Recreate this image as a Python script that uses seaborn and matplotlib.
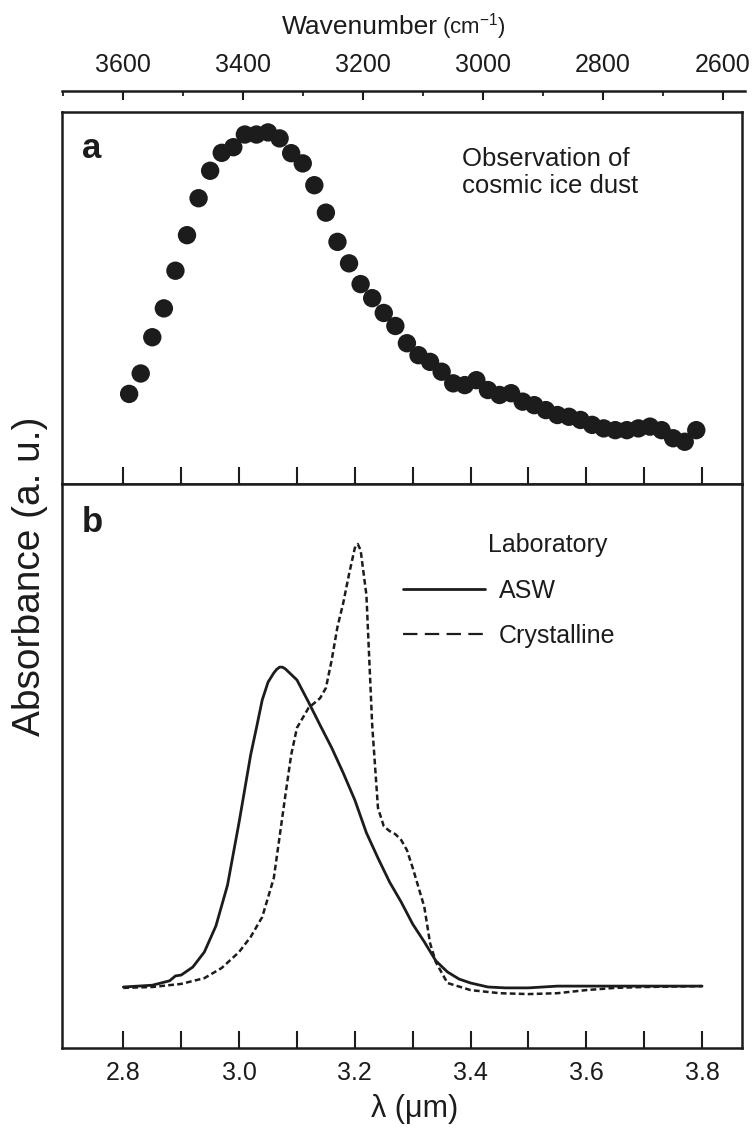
import numpy as np
import pandas as pd
import matplotlib
matplotlib.use('Agg')
import matplotlib.pyplot as plt
from matplotlib.ticker import MultipleLocator, FixedLocator, FormatStrFormatter
from matplotlib.lines import Line2D
import seaborn as sns

sns.set_theme(style='white')
plt.rcParams['font.family'] = ['Liberation Sans', 'DejaVu Sans']
plt.rcParams['mathtext.fontset'] = 'custom'
plt.rcParams['mathtext.rm'] = 'Liberation Sans'

INK = '#1c1c1c'

# panel a: observed cosmic ice dust (normalised absorbance)
obs_lam = np.round(np.arange(2.81, 3.80, 0.02), 2)
obs_abs = [0.256, 0.314, 0.417, 0.499, 0.606, 0.707, 0.812, 0.890, 0.941, 0.957,
           0.993, 0.993, 0.999, 0.982, 0.940, 0.911, 0.849, 0.771, 0.688, 0.627,
           0.568, 0.528, 0.486, 0.449, 0.400, 0.366, 0.347, 0.319, 0.286, 0.281,
           0.295, 0.267, 0.253, 0.258, 0.234, 0.224, 0.210, 0.196, 0.191, 0.182,
           0.168, 0.158, 0.153, 0.153, 0.158, 0.163, 0.153, 0.130, 0.120, 0.153]

# panel b: laboratory spectra
asw_lam = [2.80, 2.85, 2.88, 2.89, 2.90, 2.92, 2.94, 2.96, 2.98, 3.00, 3.02, 3.03,
           3.04, 3.05, 3.06, 3.065, 3.07, 3.075, 3.08, 3.10, 3.12, 3.14, 3.16, 3.18,
           3.20, 3.22, 3.24, 3.26, 3.28, 3.30, 3.32, 3.34, 3.36, 3.38, 3.40, 3.43,
           3.46, 3.50, 3.55, 3.60, 3.70, 3.80]
asw_abs = [0.000, 0.004, 0.014, 0.025, 0.027, 0.045, 0.079, 0.138, 0.230, 0.372,
           0.524, 0.585, 0.648, 0.688, 0.709, 0.717, 0.722, 0.722, 0.718, 0.693,
           0.643, 0.591, 0.540, 0.483, 0.422, 0.348, 0.291, 0.237, 0.192, 0.142,
           0.102, 0.059, 0.034, 0.018, 0.009, 0.000, -0.002, -0.002, 0.002, 0.002,
           0.002, 0.002]

cry_lam = [2.80, 2.85, 2.90, 2.94, 2.97, 3.00, 3.02, 3.04, 3.06, 3.08, 3.09, 3.10,
           3.12, 3.14, 3.15, 3.16, 3.17, 3.18, 3.19, 3.20, 3.205, 3.21, 3.22, 3.23,
           3.24, 3.25, 3.26, 3.27, 3.28, 3.29, 3.30, 3.32, 3.33, 3.34, 3.36, 3.40,
           3.45, 3.50, 3.55, 3.60, 3.65, 3.70, 3.80]
cry_abs = [-0.002, 0.000, 0.007, 0.020, 0.043, 0.079, 0.113, 0.158, 0.246, 0.433,
           0.524, 0.585, 0.630, 0.652, 0.675, 0.738, 0.813, 0.867, 0.932, 0.991,
           1.000, 0.986, 0.885, 0.591, 0.404, 0.363, 0.352, 0.345, 0.332, 0.309,
           0.269, 0.181, 0.099, 0.056, 0.009, -0.007, -0.014, -0.016, -0.014,
           -0.007, -0.002, 0.000, 0.002]

lam_major = [2.8, 3.0, 3.2, 3.4, 3.6, 3.8]
lam_minor = [2.9, 3.1, 3.3, 3.5, 3.7]

obs = pd.DataFrame({'lam': obs_lam, 'abs': obs_abs})
asw = pd.DataFrame({'lam': asw_lam, 'abs': asw_abs})
cry = pd.DataFrame({'lam': cry_lam, 'abs': cry_abs})

fig = plt.figure(figsize=(7.52, 11.31), dpi=100)
L, W = 62 / 752, 680 / 752
ax_a = fig.add_axes([L, 1 - 484 / 1131, W, 372 / 1131])
ax_b = fig.add_axes([L, 1 - 1048 / 1131, W, 564 / 1131])
ax_t = fig.add_axes([L, 1 - 91 / 1131, 683 / 752, 0.0001])

xlim = (2.694, 3.869)

sns.scatterplot(data=obs, x='lam', y='abs', ax=ax_a, color=INK, s=175,
                edgecolor='none', legend=False)
ax_a.set_ylim(0, 1.057)

sns.lineplot(data=asw, x='lam', y='abs', ax=ax_b, color=INK, lw=2.0)
sns.lineplot(data=cry, x='lam', y='abs', ax=ax_b, color=INK, lw=1.8,
             ls=(0, (2.3, 1.3)))
ax_b.set_ylim(-0.1377, 1.1354)

for ax in (ax_a, ax_b):
    ax.set_xlim(*xlim)
    ax.set_xlabel('')
    ax.set_ylabel('')
    ax.set_yticks([])
    ax.xaxis.set_major_locator(FixedLocator(lam_major))
    ax.xaxis.set_minor_locator(FixedLocator(lam_minor))
    ax.tick_params(axis='x', which='both', direction='in', length=12, width=1.5,
                   color=INK, bottom=True, top=False)
    for sp in ax.spines.values():
        sp.set_visible(True)
        sp.set_linewidth(1.8)
        sp.set_color(INK)

ax_a.tick_params(axis='x', labelbottom=False)
ax_b.tick_params(axis='x', labelsize=18, labelcolor=INK, pad=9)
ax_b.xaxis.set_major_formatter(FormatStrFormatter('%.1f'))
ax_b.set_xlabel('λ (μm)', fontsize=22, color=INK)
ax_b.xaxis.set_label_coords((415 - 62) / 680, (1048 - 1094) / 564)

# top wavenumber axis
ax_t.set_xlim(3701, 2563)
ax_t.set_yticks([])
for k in ('left', 'right', 'bottom'):
    ax_t.spines[k].set_visible(False)
ax_t.spines['top'].set_linewidth(1.8)
ax_t.spines['top'].set_color(INK)
ax_t.patch.set_alpha(0)
ax_t.xaxis.tick_top()
ax_t.xaxis.set_major_locator(MultipleLocator(200))
ax_t.xaxis.set_minor_locator(MultipleLocator(100))
ax_t.tick_params(axis='x', which='major', direction='in', length=6.5, width=1.5,
                 color=INK, labelsize=18, labelcolor=INK, pad=10)
ax_t.tick_params(axis='x', which='minor', direction='in', length=3.6, width=1.3,
                 color=INK)
fig.text(438 / 752, 1 - 34 / 1131, 'Wavenumber', fontsize=19, color=INK,
         ha='right', va='baseline')
fig.text(442 / 752, 1 - 34 / 1131, '(cm$^{-1}$)', fontsize=16, color=INK,
         ha='left', va='baseline')

# annotations
ax_a.text(0.029, 0.876, 'a', transform=ax_a.transAxes, fontsize=25,
          fontweight='bold', color=INK, va='baseline')
ax_b.text(0.029, 0.915, 'b', transform=ax_b.transAxes, fontsize=25,
          fontweight='bold', color=INK, va='baseline')
ax_a.text(0.588, 0.905, 'Observation of\ncosmic ice dust', transform=ax_a.transAxes,
          fontsize=18.5, color=INK, va='top', linespacing=1.15)

ax_b.text(0.626, 0.879, 'Laboratory', transform=ax_b.transAxes, fontsize=18,
          color=INK, va='baseline')
handles = [Line2D([], [], color=INK, lw=2.0),
           Line2D([], [], color=INK, lw=1.6, ls=(0, (6.5, 3.3)))]
ax_b.legend(handles, ['ASW', 'Crystalline'], loc='center left',
            bbox_to_anchor=(0.501, 0.771), frameon=False, fontsize=18,
            handlelength=3.3, handletextpad=0.55, labelspacing=0.85,
            borderpad=0, borderaxespad=0, labelcolor=INK)

fig.text(0.040, 0.49, 'Absorbance (a. u.)', rotation=90, ha='center', va='center',
         fontsize=28, color=INK)

fig.savefig('out.png', dpi=100, facecolor='white')
